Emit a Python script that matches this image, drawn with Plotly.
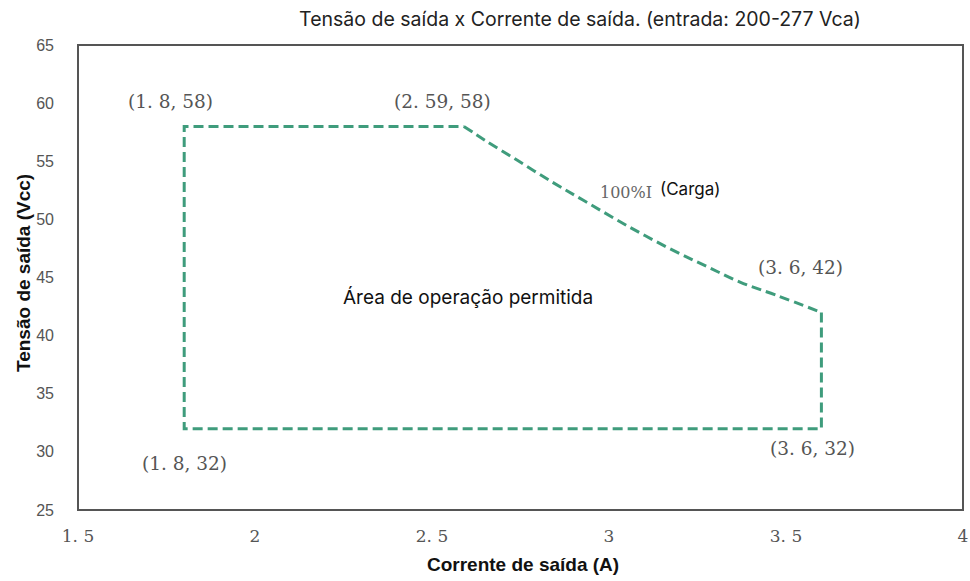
import plotly.graph_objects as go

# Operating area boundary (current A, voltage V)
# straight part of the boundary
straight_current = [3.6, 3.6, 1.8, 1.8, 2.59]
straight_voltage = [42, 32, 32, 58, 58]
# 100% load curve
curve_current = [2.59, 2.65, 2.74, 2.84, 2.93, 3.06, 3.19, 3.28, 3.37, 3.47, 3.6]
curve_voltage = [58, 56.8, 55.1, 53.2, 51.6, 49.3, 47.2, 45.9, 44.6, 43.5, 42]

x_ticks = [1.5, 2, 2.5, 3, 3.5, 4]
x_tick_labels = ["1. 5", "2", "2. 5", "3", "3. 5", "4"]
y_ticks = [25, 30, 35, 40, 45, 50, 55, 60, 65]

point_labels = ["(1. 8, 58)", "(2. 59, 58)", "(3. 6, 42)", "(1. 8, 32)", "(3. 6, 32)"]
point_label_x = [1.762, 2.531, 3.542, 1.801, 3.576]
point_label_y = [60.1, 60.1, 45.9, 29.0, 30.3]

serif = "DejaVu Serif, Liberation Serif, serif"
sans = "Inter, Noto Sans, sans-serif"
arial = "Liberation Sans, Arial, sans-serif"

W, H = 970, 581
L, R, T, B = 78, 7, 45, 71
pw, ph = W - L - R, H - T - B

line_style = dict(color="#3f9c7c", width=3, dash="10px,5px")

fig = go.Figure()
fig.add_trace(go.Scatter(
    x=straight_current, y=straight_voltage, mode="lines",
    line=line_style, showlegend=False, hoverinfo="skip"))
fig.add_trace(go.Scatter(
    x=curve_current, y=curve_voltage, mode="lines",
    line=dict(line_style, shape="spline", smoothing=1.0),
    showlegend=False, hoverinfo="skip"))

annotations = []
for t, ax, ay in zip(point_labels, point_label_x, point_label_y):
    annotations.append(dict(x=ax, y=ay, text=t, showarrow=False,
                            font=dict(family=serif, size=18.5, color="#555")))
annotations.append(dict(x=3.049, y=52.3, text="100%I", showarrow=False,
                        font=dict(family=serif, size=16, color="#666")))
annotations.append(dict(x=3.228, y=52.6, text="(Carga)", showarrow=False,
                        font=dict(family=sans, size=17, color="#111")))
annotations.append(dict(x=2.603, y=43.3, text="Área de operação permitida", showarrow=False,
                        font=dict(family=sans, size=19, color="#111")))
annotations.append(dict(x=(523 - L) / pw, y=(H - B - 564) / ph, xref="paper", yref="paper",
                        text="<b>Corrente de saída (A)</b>", showarrow=False,
                        xanchor="center", yanchor="middle",
                        font=dict(family=arial, size=19, color="#111")))
annotations.append(dict(x=(23 - L) / pw, y=(H - B - 273) / ph, xref="paper", yref="paper",
                        text="<b>Tensão de saída (Vcc)</b>", showarrow=False, textangle=-90,
                        xanchor="center", yanchor="middle",
                        font=dict(family=arial, size=19, color="#111")))

fig.update_layout(
    width=W, height=H,
    margin=dict(l=L, r=R, t=T, b=B, autoexpand=False),
    plot_bgcolor="white", paper_bgcolor="white",
    title=dict(text="Tensão de saída x Corrente de saída. (entrada: 200-277 Vca)",
               xref="container", x=580 / W, xanchor="center",
               yref="container", y=1 - 19 / H, yanchor="middle",
               font=dict(family=sans, size=19.5, color="#222")),
    xaxis=dict(range=[1.5, 4], tickvals=x_ticks, ticktext=x_tick_labels,
               showgrid=False, zeroline=False, showline=False, automargin=False,
               ticks="", ticklabelstandoff=14,
               tickfont=dict(family=serif, size=17, color="#555")),
    yaxis=dict(range=[25, 65], tickvals=y_ticks,
               showgrid=False, zeroline=False, showline=False, automargin=False,
               ticks="", ticklabelstandoff=23,
               tickfont=dict(family=arial, size=16, color="#555")),
    shapes=[dict(type="rect", xref="paper", yref="paper", x0=0, x1=1, y0=0, y1=1,
                 line=dict(color="#555", width=2), layer="above")],
    annotations=annotations,
)

fig.write_html("out.html", config={"displayModeBar": False},
               post_script="document.body.style.margin='0';document.body.style.overflow='hidden';")
